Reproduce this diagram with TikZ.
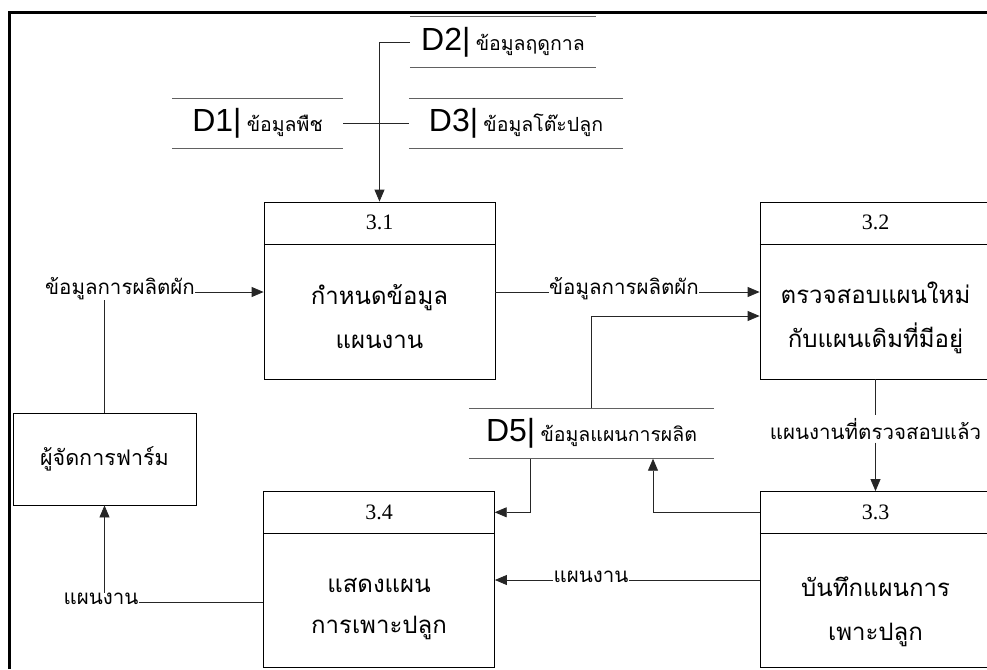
\documentclass[tikz,border=0pt]{standalone}
\usepackage{fontspec}
\setmainfont{Liberation Serif}
\newfontfamily\thai[Script=Thai]{Loma}
\newfontfamily\arial{Liberation Sans}
\usetikzlibrary{arrows.meta,calc}

\tikzset{
  proc/.style={draw=black, line width=0.8pt, minimum width=231pt, minimum height=177pt, inner sep=0pt},
  hdr/.style={minimum width=231pt, minimum height=42pt, inner sep=0pt,
              font=\fontsize{22}{26}\selectfont},
  sepline/.style={draw=black, line width=0.8pt},
  ptext/.style={align=center, inner sep=0pt, font=\thai\fontsize{24}{44}\selectfont},
  flowlbl/.style={inner sep=0pt, font=\thai\fontsize{20.5}{24}\selectfont},
  storebox/.style={minimum height=50pt, inner sep=0pt,
                   font=\arial\fontsize{32}{36}\selectfont},
  storeline/.style={draw=black!62, line width=0.9pt},
  flow/.style={draw=black!85, line width=0.8pt},
  arr/.style={flow, -{Triangle[length=12pt,width=10pt]}},
}

\newcommand{\storetxt}[2]{#1|\,{\thai\fontsize{19.5}{22}\selectfont #2}}

\begin{document}
\begin{tikzpicture}[x=1pt,y=-1pt]
\useasboundingbox (0,0) rectangle (987,669);
\clip (0,0) rectangle (987,669);

% frame (left and top edges)
\draw[line width=3pt] (9.5,669) -- (9.5,13) -- (990,13);

% data stores
\node[storebox, minimum width=186pt] (d2) at (503,42)    {\storetxt{D2}{ข้อมูลฤดูกาล}};
\node[storebox, minimum width=171pt] (d1) at (257.5,123.5) {\storetxt{D1}{ข้อมูลพืช}};
\node[storebox, minimum width=214pt] (d3) at (516,123.5) {\storetxt{D3}{ข้อมูลโต๊ะปลูก}};
\node[storebox, minimum width=245pt] (d5) at (591.5,433.5) {\storetxt{D5}{ข้อมูลแผนการผลิต}};
\foreach \s in {d1,d2,d3,d5}{
  \draw[storeline] (\s.north west) -- (\s.north east);
  \draw[storeline] (\s.south west) -- (\s.south east);
}

% processes
\node[proc] (p31) at (379.5,290.5) {};
\node[proc] (p32) at (875.5,290.5) {};
\node[proc, minimum height=176pt] (p34) at (379,579.5) {};
\node[proc, minimum height=176pt] (p33) at (875.5,579.5) {};

\node[hdr, anchor=north] (h31) at (p31.north) {3.1};
\node[hdr, anchor=north] (h32) at (p32.north) {3.2};
\node[hdr, anchor=north] (h34) at (p34.north) {3.4};
\node[hdr, anchor=north] (h33) at (p33.north) {3.3};
\foreach \h in {h31,h32,h33,h34}{
  \draw[sepline] (\h.south west) -- (\h.south east);
}

\node[ptext] (t31) at (379.5,317) {กำหนดข้อมูล\\แผนงาน};
\node[ptext] (t32) at (875.5,318) {ตรวจสอบแผนใหม่\\กับแผนเดิมที่มีอยู่};
\node[ptext, font=\thai\fontsize{24}{41}\selectfont] (t34) at (379,609) {แสดงแผน\\การเพาะปลูก};
\node[ptext] (t33) at (875.5,612) {บันทึกแผนการ\\เพาะปลูก};

% external entity
\node[draw=black, line width=0.8pt, minimum width=183pt, minimum height=92pt,
      inner sep=0pt, font=\thai\fontsize{21.5}{24}\selectfont] (farm) at (104.5,459) {ผู้จัดการฟาร์ม};

% flow labels
\node[flowlbl, anchor=mid] (l1) at (120,292) {ข้อมูลการผลิตผัก};
\node[flowlbl, anchor=mid] (l2) at (624,292) {ข้อมูลการผลิตผัก};
\node[flowlbl, anchor=mid, inner sep=3pt] (l3) at (875.5,437) {แผนงานที่ตรวจสอบแล้ว};
\node[flowlbl, anchor=mid] (l4) at (591,580) {แผนงาน};
\node[flowlbl, anchor=mid] (l5) at (101,602) {แผนงาน};

% connectors
\draw[arr] (d2.west) -| (p31.north);
\draw[flow] (d1.east) -- (d3.west);

\draw[flow] (farm.north) -- (farm.north |- l1.south);
\draw[arr] (l1.mid east) -- (l1.mid east -| p31.west);

\draw[flow] (p31.east |- l2.mid) -- (l2.mid west);
\draw[arr] (l2.mid east) -- (l2.mid east -| p32.west);

\draw[arr] (d5.north) |- ($(p32.west)+(0,25.5)$);

\draw[flow] (p32.south) -- (l3.north);
\draw[arr] (l3.south) -- (p33.north);

\draw[arr] (h33.west) -| ($(d5.south)+(61.5,0)$);
\draw[arr] ($(d5.south)+(-61.5,0)$) |- (h34.east);

\draw[flow] (p33.west |- l4.mid) -- (l4.mid east);
\draw[arr] (l4.mid west) -- (l4.mid west -| p34.east);

\draw[flow] (p34.west |- l5.mid) -- (l5.mid east);
\draw[arr] (farm.south |- l5.north) -- (farm.south);
\end{tikzpicture}
\end{document}
